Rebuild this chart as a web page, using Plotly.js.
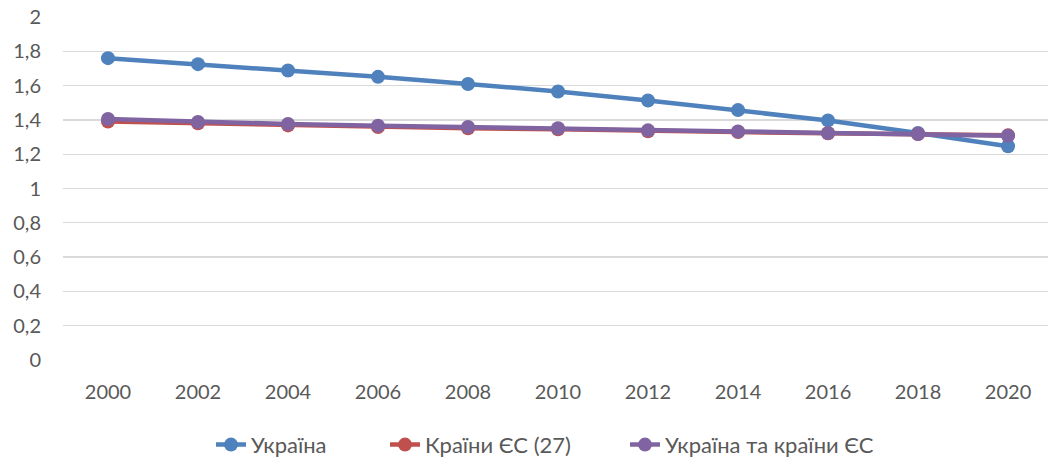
<!DOCTYPE html>
<html>
<head>
<meta charset="utf-8">
<script src="https://cdn.plot.ly/plotly-3.0.1.min.js"></script>
<style>html,body{margin:0;padding:0;background:#fff;}#chart{width:1048px;height:460px;}</style>
</head>
<body>
<div id="chart"></div>
<script>
const years = ["2000","2002","2004","2006","2008","2010","2012","2014","2016","2018","2020"];
const ukraine = [1.760,1.725,1.688,1.651,1.609,1.566,1.513,1.457,1.397,1.324,1.246];
const eu27 = [1.391,1.380,1.368,1.358,1.351,1.345,1.334,1.329,1.322,1.318,1.310];
const ukraineEu = [1.405,1.388,1.376,1.366,1.359,1.351,1.339,1.333,1.324,1.318,1.308];
const seriesNames = ["Україна","Країни ЄС (27)","Україна та країни ЄС"];
const colors = ["#4F81BD","#C0504D","#8064A2"];
const yTicks = [0,0.2,0.4,0.6,0.8,1,1.2,1.4,1.6,1.8,2];

const legendIds = ['legend','legend2','legend3'];
const legendX = [211, 385, 625];

const allData = [ukraine, eu27, ukraineEu];
const traces = allData.map((vals,i)=>({
  x: years, y: vals, name: seriesNames[i], type:'scatter', mode:'lines+markers',
  line:{color:colors[i], width:4.5}, marker:{color:colors[i], size:14},
  cliponaxis:false, legend: legendIds[i]
}));

const layout = {
  width:1048, height:460,
  margin:{l:63, r:0, t:17, b:100},
  paper_bgcolor:'#fff', plot_bgcolor:'#fff',
  separators:', ',
  font:{family:'Lato, "Open Sans", sans-serif', size:16, color:'#595959'},
  xaxis:{type:'category', range:[-0.5, 10.444], showgrid:false, zeroline:false, showline:false,
         ticks:'', tickfont:{size:20, color:'#595959'}, ticklabelstandoff:18},
  yaxis:{range:[0,2], tickvals:yTicks, showgrid:true, gridcolor:'#D9D9D9', gridwidth:1.3,
         zeroline:false, showline:false, ticks:'', tickfont:{size:20, color:'#595959'}, ticklabelstandoff:21},
  showlegend:true
};
legendIds.forEach((id,i)=>{
  layout[id] = {orientation:'h', x:legendX[i]/1048, xanchor:'left', xref:'container',
    y:0.033, yref:'container', yanchor:'middle', font:{size:22, color:'#595959'},
    bgcolor:'rgba(0,0,0,0)'};
});
Plotly.newPlot('chart', traces, layout, {staticPlot:true, displayModeBar:false});
</script>
</body>
</html>
